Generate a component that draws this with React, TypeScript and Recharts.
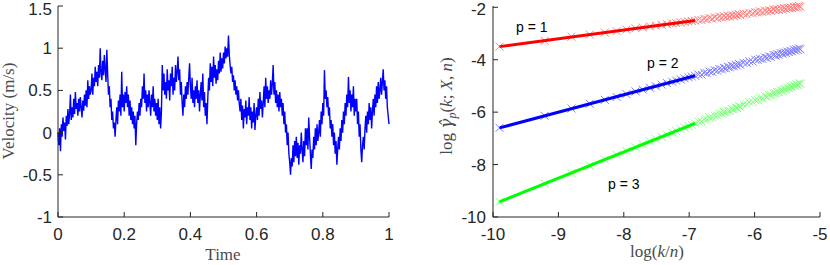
import React from 'react';
import { LineChart, Line, ScatterChart, Scatter, XAxis, YAxis } from 'recharts';

// velocity samples (each row = 0.05 s)
const velocity = [
  0.00, -0.15, 0.05, -0.22, 0.10, -0.05, 0.18, 0.02, 0.12, -0.08, 0.20, 0.08, 0.28, 0.10, 0.22, 0.45, 0.15, 0.30, 0.18, 0.40,
  0.22, 0.48, 0.28, 0.35, 0.20, 0.40, 0.25, 0.42, 0.30, 0.18, 0.38, 0.26, 0.45, 0.32, 0.50, 0.30, 0.62, 0.40, 0.55, 0.45,
  0.50, 0.70, 0.45, 0.65, 0.55, 0.78, 0.60, 0.72, 0.55, 0.80, 0.65, 1.00, 0.70, 0.62, 0.85, 0.68, 0.92, 0.75, 0.60, 0.98,
  0.70, 0.45, 0.55, 0.30, 0.40, 0.15, 0.25, 0.05, 0.12, -0.05, 0.15, 0.30, 0.10, 0.38, 0.25, 0.45, 0.20, 0.72, 0.30, 0.45,
  0.25, 0.48, 0.35, 0.55, 0.30, 0.45, 0.20, 0.38, 0.15, 0.30, 0.10, 0.25, 0.05, 0.20, -0.15, 0.10, 0.25, 0.15, 0.35, 0.20,
  0.40, 0.30, 0.55, 0.40, 0.70, 0.35, 0.50, 0.25, 0.45, 0.30, 0.50, 0.35, 0.20, 0.45, 0.30, 0.55, 0.25, 0.40, 0.20, 0.35,
  0.15, 0.40, 0.10, 0.30, 0.05, 0.25, 0.80, 0.50, 0.70, 0.45, 0.60, 0.40, 0.75, 0.50, 0.62, 0.38, 0.70, 0.55, 0.78, 0.45,
  0.65, 0.50, 0.80, 0.60, 0.72, 0.90, 0.62, 0.75, 0.45, 0.60, 0.35, 0.20, 0.45, 0.30, 0.55, 0.40, 0.60, 0.45, 0.65, 0.82,
  0.55, 0.40, 0.65, 0.35, 0.50, 0.30, 0.55, 0.40, 0.62, 0.35, 0.50, 0.25, 0.45, 0.60, 0.38, 0.70, 0.30, 0.48, 0.20, 0.35,
  0.10, 0.40, 0.65, 0.50, 0.82, 0.60, 0.78, 0.55, 0.90, 0.65, 0.80, 0.58, 0.75, 0.62, 0.85, 0.70, 0.95, 0.72, 0.88, 0.76,
  0.95, 0.82, 1.02, 0.88, 1.00, 0.90, 1.15, 0.92, 0.80, 0.70, 0.78, 0.60, 0.68, 0.50, 0.62, 0.45, 0.55, 0.38, 0.50, 0.35,
  0.25, 0.40, 0.15, 0.32, 0.05, 0.28, 0.18, 0.38, 0.10, 0.30, 0.20, 0.42, 0.15, 0.30, 0.05, 0.25, 0.12, 0.35, 0.03, 0.20,
  0.30, 0.15, 0.40, 0.20, 0.48, 0.28, 0.38, 0.18, 0.35, 0.55, 0.30, 0.65, 0.40, 0.55, 0.35, 0.50, 0.40, 0.62, 0.45, 0.58,
  0.80, 0.45, 0.60, 0.35, 0.50, 0.30, 0.45, 0.25, 0.48, 0.30, 0.40, 0.20, 0.35, 0.10, 0.25, 0.00, 0.10, -0.15, 0.00, -0.25,
  -0.35, -0.50, -0.30, -0.40, -0.15, -0.35, -0.10, -0.28, -0.05, -0.30, -0.12, -0.38, -0.15, -0.25, 0.00, -0.20, -0.35, -0.10, -0.28, 0.05,
  -0.15, 0.05, -0.20, 0.18, -0.05, -0.25, -0.43, -0.20, -0.30, -0.05, -0.20, 0.05, -0.15, 0.10, -0.10, 0.00, 0.15, -0.05, 0.25, 0.10,
  0.35, 0.20, 0.74, 0.40, 0.50, 0.30, 0.42, 0.20, 0.30, 0.05, 0.15, -0.05, 0.10, -0.15, 0.00, -0.25, -0.10, -0.38, -0.20, -0.05,
  -0.20, 0.05, -0.10, 0.15, 0.00, 0.25, 0.10, 0.35, 0.20, 0.45, 0.30, 0.66, 0.35, 0.50, 0.25, 0.45, 0.30, 0.55, 0.20, 0.40,
  0.25, 0.40, 0.10, 0.25, -0.05, 0.10, -0.20, -0.35, -0.15, -0.05, -0.20, 0.05, 0.20, 0.00, 0.25, 0.10, 0.35, 0.15, 0.30, 0.05,
  0.25, 0.40, 0.20, 0.45, 0.30, 0.55, 0.35, 0.60, 0.40, 0.50, 0.65, 0.45, 0.60, 0.75, 0.50, 0.62, 0.40, 0.55, 0.30, 0.20,
  0.10,
];
const timeTicks = [0, 0.2, 0.4, 0.6, 0.8, 1];
const velTicks = [-1, -0.5, 0, 0.5, 1, 1.5];

// log(k/n) positions of the estimator markers
const logKN = [
  -9.90, -9.21, -8.80, -8.52, -8.29, -8.11, -7.96, -7.82, -7.71, -7.60,
  -7.51, -7.42, -7.34, -7.26, -7.20, -7.13, -7.07, -7.01, -6.96, -6.91,
  -6.86, -6.81, -6.77, -6.73, -6.69, -6.65, -6.61, -6.57, -6.54, -6.50,
  -6.47, -6.44, -6.41, -6.38, -6.35, -6.32, -6.29, -6.27, -6.24, -6.22,
  -6.17, -6.12, -6.08, -6.03, -5.99, -5.95, -5.92, -5.88, -5.84, -5.81,
  -5.78, -5.75, -5.71, -5.68, -5.66, -5.63, -5.60, -5.57, -5.55, -5.52,
  -5.50, -5.47, -5.45, -5.43, -5.40, -5.38, -5.36, -5.34, -5.32, -5.30,
];
const gammaP1 = [
  -3.50, -3.28, -3.12, -3.04, -2.96, -2.91, -2.85, -2.80, -2.77, -2.73,
  -2.70, -2.67, -2.64, -2.62, -2.60, -2.58, -2.56, -2.54, -2.52, -2.51,
  -2.48, -2.49, -2.44, -2.46, -2.41, -2.44, -2.38, -2.41, -2.36, -2.39,
  -2.34, -2.37, -2.32, -2.35, -2.30, -2.33, -2.28, -2.31, -2.26, -2.29,
  -2.24, -2.26, -2.21, -2.23, -2.18, -2.20, -2.15, -2.18, -2.13, -2.16,
  -2.11, -2.14, -2.08, -2.11, -2.07, -2.10, -2.05, -2.08, -2.03, -2.06,
  -2.01, -2.04, -2.00, -2.03, -1.98, -2.01, -1.97, -2.00, -1.95, -1.98,
];
const gammaP2 = [
  -6.60, -6.14, -5.86, -5.68, -5.53, -5.42, -5.31, -5.21, -5.14, -5.07,
  -5.01, -4.95, -4.89, -4.84, -4.80, -4.75, -4.71, -4.67, -4.64, -4.61,
  -4.56, -4.57, -4.50, -4.51, -4.45, -4.46, -4.40, -4.42, -4.35, -4.37,
  -4.31, -4.33, -4.27, -4.29, -4.23, -4.25, -4.19, -4.22, -4.16, -4.19,
  -4.12, -4.12, -4.06, -4.07, -4.00, -4.01, -3.96, -3.97, -3.91, -3.93,
  -3.87, -3.89, -3.82, -3.84, -3.79, -3.81, -3.75, -3.77, -3.72, -3.74,
  -3.69, -3.71, -3.66, -3.68, -3.62, -3.65, -3.60, -3.63, -3.57, -3.60,
];
const gammaP3 = [
  -9.42, -8.73, -8.32, -8.04, -7.81, -7.63, -7.48, -7.34, -7.23, -7.12,
  -7.03, -6.94, -6.86, -6.78, -6.72, -6.65, -6.59, -6.53, -6.48, -6.43,
  -6.36, -6.36, -6.28, -6.28, -6.20, -6.20, -6.13, -6.13, -6.06, -6.06,
  -5.99, -6.00, -5.94, -5.95, -5.88, -5.89, -5.82, -5.84, -5.77, -5.79,
  -5.71, -5.70, -5.62, -5.61, -5.54, -5.54, -5.47, -5.47, -5.39, -5.41,
  -5.34, -5.35, -5.27, -5.28, -5.22, -5.23, -5.17, -5.18, -5.12, -5.13,
  -5.07, -5.08, -5.02, -5.04, -4.98, -5.00, -4.94, -4.96, -4.90, -4.92,
];
// fitted lines over the first 20 points
const fitX = [-9.90, -6.91];
const fitP1 = [-3.50, -2.50];
const fitP2 = [-6.60, -4.61];
const fitP3 = [-9.42, -6.43];
const logTicksX = [-10, -9, -8, -7, -6, -5];
const logTicksY = [-10, -8, -6, -4, -2];

const velData = velocity.map((v, i) => ({ t: i / (velocity.length - 1), v }));
const pts = (ys: number[]) => logKN.map((x, i) => ({ x, y: ys[i] }));
const fit = (ys: number[]) => fitX.map((x, i) => ({ x, y: ys[i] }));

const AX = '#262626';
const FONT = 'Liberation Sans, Arial, sans-serif';
const tickFont = { fontSize: 17, fill: AX, fontFamily: FONT };
const labelColor = '#4a4a4a';

// y tick label; the top one is nudged down so it stays inside the figure
const YTick = (props: any) => {
  const { x, y, payload } = props;
  return (
    <text x={x} y={Math.max(y, 8.5)} dy={6} textAnchor="end" fontSize={17} fill={AX} fontFamily={FONT}>
      {payload.value}
    </text>
  );
};

const cross = (color: string) => (props: any) => {
  const { cx, cy } = props;
  return (
    <g stroke={color} strokeWidth={1}>
      <line x1={cx - 4} y1={cy - 4} x2={cx + 4} y2={cy + 4} />
      <line x1={cx - 4} y1={cy + 4} x2={cx + 4} y2={cy - 4} />
    </g>
  );
};
const noShape = () => <g />;

const App: React.FC = () => {
  return (
    <div style={{ position: 'absolute', left: 0, top: 0, width: 830, height: 265, background: '#fff' }}>
      <div style={{ position: 'absolute', left: 0, top: 0 }}>
        <LineChart width={400} height={265} data={velData} margin={{ top: 6, right: 11, bottom: 0, left: 0 }}>
          <XAxis
            dataKey="t" type="number" domain={[0, 1]} ticks={timeTicks} interval={0}
            height={48} tickSize={-5} tickMargin={16}
            tick={tickFont} axisLine={{ stroke: AX }} tickLine={{ stroke: AX }}
          />
          <XAxis
            xAxisId="top" orientation="top" dataKey="t" type="number" domain={[0, 1]} ticks={timeTicks}
            interval={0} height={0} tickSize={-5} tick={false} axisLine={{ stroke: AX }} tickLine={{ stroke: AX }}
          />
          <YAxis
            type="number" domain={[-1, 1.5]} ticks={velTicks} interval={0} width={58}
            tickSize={-5} tickMargin={11} tick={<YTick />} axisLine={{ stroke: AX }} tickLine={{ stroke: AX }}
          />
          <YAxis
            yAxisId="right" orientation="right" type="number" domain={[-1, 1.5]} ticks={velTicks} interval={0}
            width={0} tickSize={-5} tick={false} axisLine={{ stroke: AX }} tickLine={{ stroke: AX }}
          />
          <Line dataKey="v" type="linear" stroke="#0000ff" strokeWidth={1.4} dot={false} isAnimationActive={false} />
        </LineChart>
      </div>
      <div style={{ position: 'absolute', left: 400, top: 0 }}>
        <ScatterChart width={430} height={265} margin={{ top: 6, right: 10, bottom: 0, left: 0 }}>
          <XAxis
            dataKey="x" type="number" domain={[-10, -5]} ticks={logTicksX} interval={0}
            height={48} tickSize={-5} tickMargin={16}
            tick={tickFont} axisLine={{ stroke: AX }} tickLine={{ stroke: AX }}
          />
          <XAxis
            xAxisId="top" orientation="top" dataKey="x" type="number" domain={[-10, -5]} ticks={logTicksX}
            interval={0} height={0} tickSize={-5} tick={false} axisLine={{ stroke: AX }} tickLine={{ stroke: AX }}
          />
          <YAxis
            dataKey="y" type="number" domain={[-10, -2]} ticks={logTicksY} interval={0} width={93}
            tickSize={-5} tickMargin={12} tick={<YTick />} axisLine={{ stroke: AX }} tickLine={{ stroke: AX }}
          />
          <YAxis
            yAxisId="right" orientation="right" dataKey="y" type="number" domain={[-10, -2]} ticks={logTicksY}
            interval={0} width={0} tickSize={-5} tick={false} axisLine={{ stroke: AX }} tickLine={{ stroke: AX }}
          />
          <Scatter data={pts(gammaP1)} shape={cross('#ff8080')} isAnimationActive={false} />
          <Scatter data={pts(gammaP2)} shape={cross('#8080ff')} isAnimationActive={false} />
          <Scatter data={pts(gammaP3)} shape={cross('#80ff80')} isAnimationActive={false} />
          <Scatter data={fit(fitP1)} shape={noShape} line={{ stroke: '#ff0000', strokeWidth: 3 }} isAnimationActive={false} />
          <Scatter data={fit(fitP2)} shape={noShape} line={{ stroke: '#0000ff', strokeWidth: 3 }} isAnimationActive={false} />
          <Scatter data={fit(fitP3)} shape={noShape} line={{ stroke: '#00ff00', strokeWidth: 3 }} isAnimationActive={false} />
        </ScatterChart>
      </div>
      <svg width={830} height={265} style={{ position: 'absolute', left: 0, top: 0, pointerEvents: 'none' }}>
        <g fontFamily="Liberation Serif, DejaVu Serif, serif" fill={labelColor} fontSize={17}>
          <text x={223} y={260} textAnchor="middle">Time</text>
          <text transform="translate(14,111) rotate(-90)" textAnchor="middle">Velocity (m/s)</text>
          <text x={657} y={257} textAnchor="middle">
            log(<tspan fontStyle="italic">k</tspan>/<tspan fontStyle="italic">n</tspan>)
          </text>
          <text transform="translate(452,106) rotate(-90)" textAnchor="middle">
            log <tspan fontStyle="italic" fontFamily="DejaVu Serif">γ̂</tspan>
            <tspan fontStyle="italic" fontSize={12} dy={4}>p</tspan>
            <tspan dy={-4}>(</tspan>
            <tspan fontStyle="italic">k</tspan>; <tspan fontStyle="italic">X</tspan>, <tspan fontStyle="italic">n</tspan>)
          </text>
        </g>
        <g fontFamily={FONT} fill="#000" fontSize={14}>
          <text x={516} y={32}>p = 1</text>
          <text x={647} y={68}>p = 2</text>
          <text x={608} y={189}>p = 3</text>
        </g>
      </svg>
    </div>
  );
};

export default App;
